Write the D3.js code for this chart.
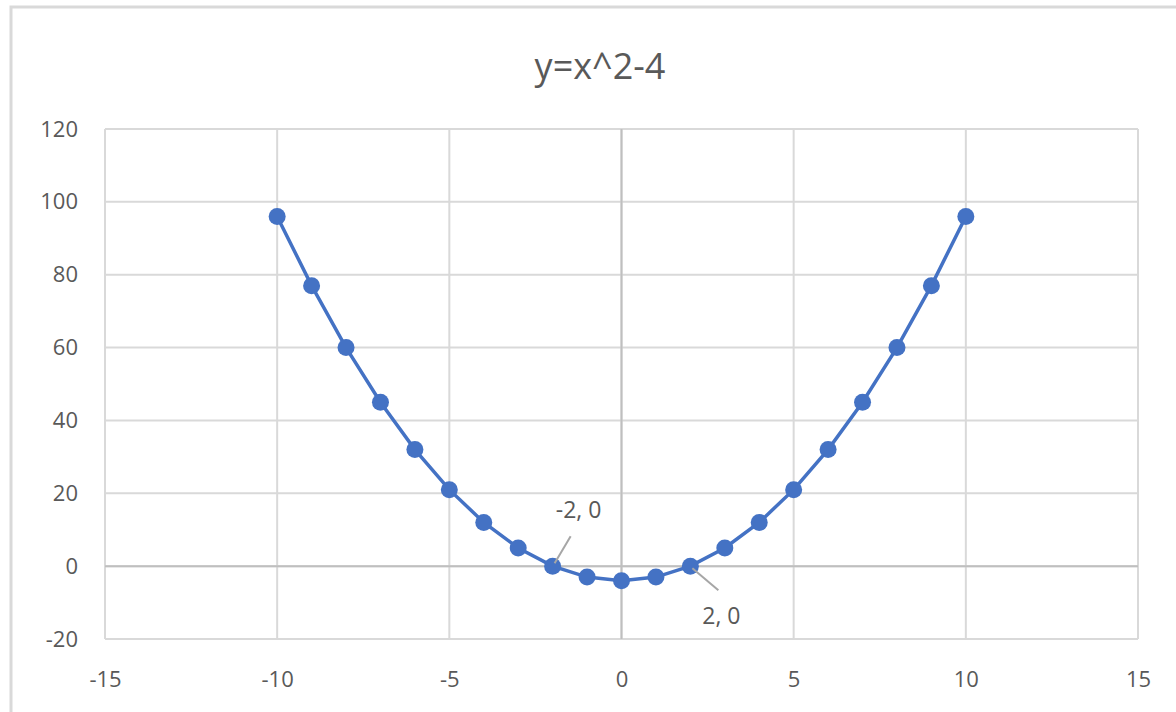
<!DOCTYPE html>
<html>
<head>
<meta charset="utf-8">
<script src="https://cdn.jsdelivr.net/npm/d3@7"></script>
<style>
  body { margin: 0; background: #fff; }
  text { font-family: "Open Sans", "Liberation Sans", sans-serif; fill: #595959; }
</style>
</head>
<body>
<div id="chart"></div>
<script>
// Data
const xValues = [-10, -9, -8, -7, -6, -5, -4, -3, -2, -1, 0, 1, 2, 3, 4, 5, 6, 7, 8, 9, 10];
const yValues = [96, 77, 60, 45, 32, 21, 12, 5, 0, -3, -4, -3, 0, 5, 12, 21, 32, 45, 60, 77, 96];
const xTicks = [-15, -10, -5, 0, 5, 10, 15];
const yTicks = [-20, 0, 20, 40, 60, 80, 100, 120];
const labelled = [{ x: -2, y: 0, text: "-2, 0" }, { x: 2, y: 0, text: "2, 0" }];

const W = 1176, H = 712;
const margin = { top: 129, right: 38, bottom: 73, left: 105 };
const width = W - margin.left - margin.right;
const height = H - margin.top - margin.bottom;

const svg = d3.select("#chart")
  .append("svg")
  .attr("width", W)
  .attr("height", H);

// chart area border
svg.append("rect")
  .attr("x", 11).attr("y", 7)
  .attr("width", W + 20).attr("height", H + 20)
  .attr("fill", "none")
  .attr("stroke", "#d9d9d9")
  .attr("stroke-width", 3);

svg.append("text")
  .attr("x", 600).attr("y", 79)
  .attr("text-anchor", "middle")
  .style("font-size", "36px")
  .text("y=x^2-4");

const g = svg.append("g")
  .attr("transform", `translate(${margin.left},${margin.top})`);

const x = d3.scaleLinear().domain([-15, 15]).range([0, width]);
const y = d3.scaleLinear().domain([-20, 120]).range([height, 0]);

// gridlines
g.append("g")
  .selectAll("line")
  .data(yTicks)
  .enter()
  .append("line")
  .attr("x1", 0).attr("x2", width)
  .attr("y1", d => y(d)).attr("y2", d => y(d))
  .attr("stroke", "#d9d9d9")
  .attr("stroke-width", 2);

g.append("g")
  .selectAll("line")
  .data(xTicks)
  .enter()
  .append("line")
  .attr("y1", 0).attr("y2", height)
  .attr("x1", d => x(d)).attr("x2", d => x(d))
  .attr("stroke", "#d9d9d9")
  .attr("stroke-width", 2);

// axis lines through zero
g.append("line")
  .attr("x1", 0).attr("x2", width)
  .attr("y1", y(0)).attr("y2", y(0))
  .attr("stroke", "#bfbfbf").attr("stroke-width", 2);
g.append("line")
  .attr("y1", 0).attr("y2", height)
  .attr("x1", x(0)).attr("x2", x(0))
  .attr("stroke", "#bfbfbf").attr("stroke-width", 2);

// tick labels
g.append("g")
  .attr("transform", "translate(-24,0)")
  .call(d3.axisLeft(y).tickValues(yTicks).tickSize(0).tickFormat(d => String(d)));
g.append("g")
  .attr("transform", `translate(0,${height + 29})`)
  .call(d3.axisBottom(x).tickValues(xTicks).tickSize(0).tickFormat(d => String(d)));
svg.selectAll(".domain").remove();
svg.selectAll(".tick text")
  .style("font-size", "22px")
  .style("font-family", "\"Open Sans\", sans-serif")
  .attr("fill", "#595959");

// series
const points = xValues.map((v, i) => ({ x: v, y: yValues[i] }));

g.append("path")
  .datum(points)
  .attr("fill", "none")
  .attr("stroke", "#4472c4")
  .attr("stroke-width", 3.5)
  .attr("d", d3.line().x(d => x(d.x)).y(d => y(d.y)));

g.selectAll(".dot")
  .data(points)
  .enter()
  .append("circle")
  .attr("class", "dot")
  .attr("cx", d => x(d.x))
  .attr("cy", d => y(d.y))
  .attr("r", 8.5)
  .attr("fill", "#4472c4");

// data labels with leader lines
const lab = g.selectAll(".lab")
  .data(labelled)
  .enter()
  .append("g");

lab.append("line")
  .attr("x1", d => x(d.x) + 2)
  .attr("y1", d => y(d.y) + (d.x < 0 ? -3 : 2))
  .attr("x2", d => x(d.x) + (d.x < 0 ? 18 : 28))
  .attr("y2", d => y(d.y) + (d.x < 0 ? -30 : 24))
  .attr("stroke", "#a6a6a6")
  .attr("stroke-width", 2);

lab.append("text")
  .attr("x", d => x(d.x) + (d.x < 0 ? 26 : 31))
  .attr("y", d => y(d.y) + (d.x < 0 ? -48 : 58))
  .attr("text-anchor", "middle")
  .style("font-size", "23px")
  .text(d => d.text);
</script>
</body>
</html>
